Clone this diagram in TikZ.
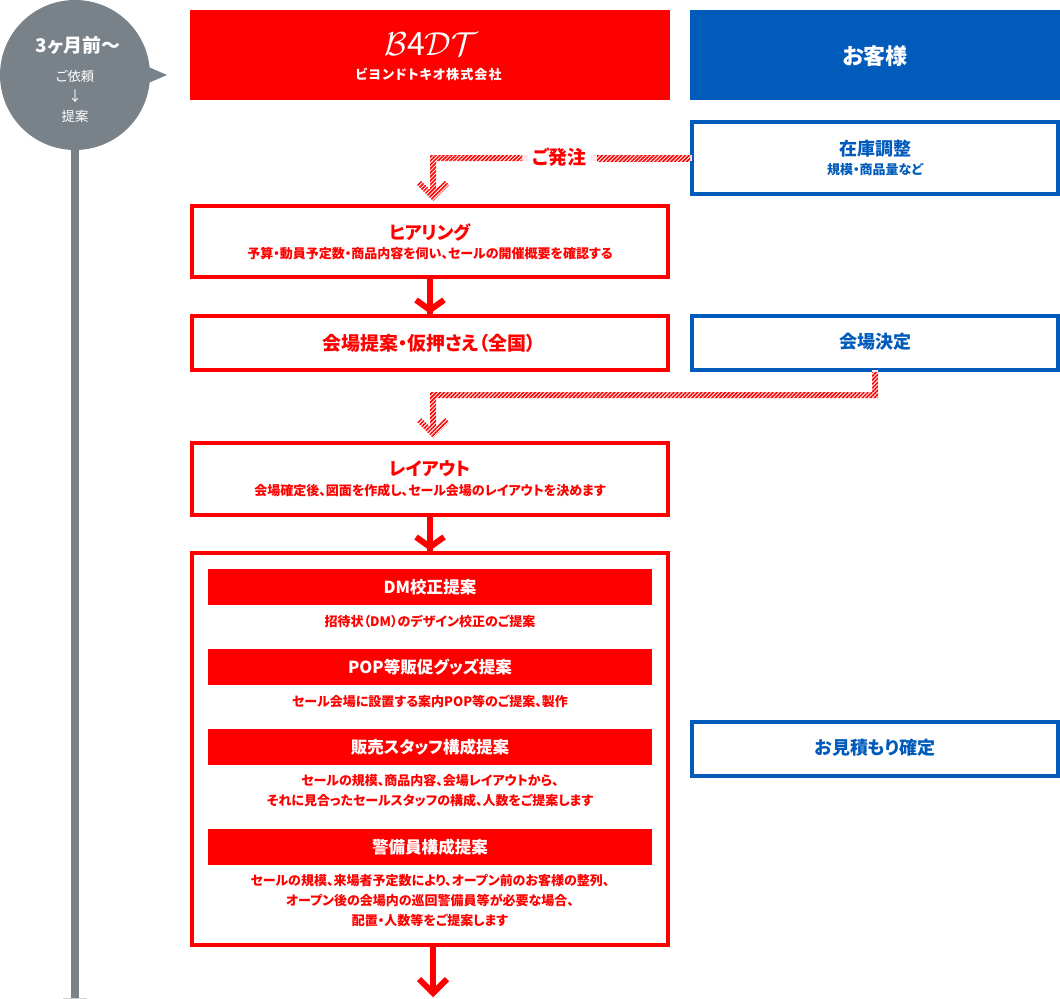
\documentclass[tikz,border=0pt]{standalone}
\usepackage{fontspec}
\setmainfont{Noto Sans CJK JP}[RawFeature=+palt]
\usetikzlibrary{patterns.meta,calc}
\definecolor{bred}{HTML}{FF0000}
\definecolor{bblue}{HTML}{005BBB}
\definecolor{bgray}{HTML}{7A8289}
\definecolor{hbase}{HTML}{FFE6E6}
\tikzset{
  x=0.75pt,y=-0.75pt,
  every node/.style={inner sep=0pt,outer sep=0pt,font=\bfseries,align=center},
  redbox/.style={draw=bred,line width=3pt,fill=white},
  bluebox/.style={draw=bblue,line width=3pt,fill=white},
  head/.style={text=#1,font=\fontsize{13.5}{15}\selectfont\bfseries},
  sub/.style={text=#1,font=\fontsize{9.75}{15}\selectfont\bfseries},
  banner/.style={fill=bred,text=white,font=\fontsize{12.4}{15}\selectfont\bfseries},
  stem/.style={draw=bred,line width=4.5pt},
  chev/.style={draw=bred,line width=4.5pt,miter limit=10},
  hline/.style={draw=hbase,line width=4.5pt},
  hatch/.style={pattern={Lines[angle=45,distance=2.1pt,line width=1.15pt]},pattern color=bred},
}
\newcommand{\boxat}[6]{\node[#1,minimum width=#4*0.75pt-3pt,minimum height=#5*0.75pt-3pt] (#6) at (#2,#3) {};}
\begin{document}
\begin{tikzpicture}
\useasboundingbox (0,0) rectangle (1060,999);
% timeline
\coordinate (lineEnd) at (75,998);
\fill[bgray] (63,998.5) arc[start angle=180,end angle=0,x radius=12,y radius=1.5] -- cycle;
\node[circle,fill=bgray,minimum size=112.5pt] (bubble) at (75,75) {};
\draw[bgray,line width=6pt] (bubble.south) -- (lineEnd);
\coordinate (ptr) at (167,75);
\fill[bgray] (146,66) -- (ptr) -- (146,84) -- cycle;
\node[text=white,font=\fontsize{14.2}{16}\selectfont\bfseries] (t3m) at (78,45) {3ヶ月前〜};
\node[text=white,font=\fontsize{10}{12}\selectfont] (tirai) at (75,76) {ご依頼};
\node[text=white,font=\fontsize{10.5}{12}\selectfont] (tarr) at (75,96) {↓};
\node[text=white,font=\fontsize{10}{12}\selectfont] (tprop) at (75,116) {提案};
% headers
\node[fill=bred,minimum width=360pt,minimum height=67.5pt] (hdrR) at (430,55) {};
\node[fill=bblue,minimum width=277.5pt,minimum height=67.5pt] (hdrB) at (875,55) {};
\node[text=white,font=\fontsize{24}{24}\selectfont\itshape] (logo) at (431,44) {$\mathcal{B}$\textit{4}$\mathcal{DT}$};
\node[text=white,font=\fontsize{9.8}{12}\selectfont\bfseries\addfontfeature{LetterSpace=8}] (logosub) at (428.5,74) {ビヨンドトキオ株式会社};
\node[text=white,font=\fontsize{16.5}{20}\selectfont\bfseries] (okyaku) at (875,56) {お客様};
% boxes
\boxat{bluebox}{875}{158}{370}{76}{zaiko}
\boxat{redbox}{430}{241.5}{480}{75}{hearing}
\boxat{redbox}{430}{343}{480}{58}{venue}
\boxat{bluebox}{875}{343}{370}{58}{decide}
\boxat{redbox}{430}{479}{480}{76}{layout}
\boxat{redbox}{430}{749}{480}{396}{big}
\boxat{bluebox}{875}{749}{370}{58}{estimate}
% box text
\node[head=bblue] (z1) at (875,149) {在庫調整};
\node[sub=bblue] (z2) at (875,170) {規模・商品量など};
\node[head=bred] (h1) at (430,232) {ヒアリング};
\node[sub=bred] (h2) at (430,254) {予算・動員予定数・商品内容を伺い、セールの開催概要を確認する};
\node[head=bred,font=\fontsize{14.2}{16}\selectfont\bfseries] (v1) at (429,343) {会場提案・仮押さえ（全国）};
\node[head=bblue] (d1) at (875,342) {会場決定};
\node[head=bred] (l1) at (430,469) {レイアウト};
\node[sub=bred] (l2) at (430,491) {会場確定後、図面を作成し、セール会場のレイアウトを決めます};
\node[head=bblue] (e1) at (875,748) {お見積もり確定};
% banners
\node[banner,minimum width=333pt,minimum height=27pt] (b1) at (430,587) {DM校正提案};
\node[sub=bred] (s1) at (430,621) {招待状（DM）のデザイン校正のご提案};
\node[banner,minimum width=333pt,minimum height=27pt] (b2) at (430,667) {POP等販促グッズ提案};
\node[sub=bred] (s2) at (430,701) {セール会場に設置する案内POP等のご提案、製作};
\node[banner,minimum width=333pt,minimum height=27pt] (b3) at (430,747) {販売スタッフ構成提案};
\node[sub=bred] (s3) at (430,791) {セールの規模、商品内容、会場レイアウトから、\\それに見合ったセールスタッフの構成、人数をご提案します};
\node[banner,minimum width=333pt,minimum height=27pt] (b4) at (430,847) {警備員構成提案};
\node[sub=bred] (s4) at (430,901) {セールの規模、来場者予定数により、オープン前のお客様の整列、\\オープン後の会場内の巡回警備員等が必要な場合、\\配置・人数等をご提案します};
% hatched connector 1
\node[text=bred,font=\fontsize{14.2}{16}\selectfont\bfseries] (order) at (559.5,157) {ご発注};
\coordinate (c1) at (433,158);
\coordinate (t1) at (433,196);
\coordinate (o1) at ($(order.east)+(4,1)$);
\coordinate (o2) at ($(order.west)+(-4,1)$);
\draw[hline] (zaiko.west) -- (o1);
\draw[hline] (o2) -- (c1) -- (t1);
\fill[hatch] (690,155) -- (597,155) -- (597,161) -- (690,161) -- cycle;
\fill[hatch] (522,155) -- (430,155) -- (430,189.5) -- (421,181) -- (417,185) -- (433,201) -- (449,185) -- (445,181) -- (436,189.5) -- (436,161) -- (522,161) -- cycle;
% hatched connector 2
\coordinate (c2a) at (875,395);
\coordinate (c2b) at (433,395);
\coordinate (t2) at (433,433);
\draw[hline] (decide.south -| c2a) -- (c2a) -- (c2b) -- (t2);
\fill[hatch] (872,372) -- (878,372) -- (878,398) -- (436,398) -- (436,427) -- (445,418) -- (449,422) -- (433,438) -- (417,422) -- (421,418) -- (430,427) -- (430,392) -- (872,392) -- cycle;
% solid arrows
\foreach \a/\b/\n in {hearing/venue/a1,layout/big/a2}{
  \draw[stem] (\a.south) -- (\b.north);
  \draw[chev] ($(\b.north)+(-14,-16)$) -- ($(\b.north)+(0,-6)+(0,-0)$) -- ($(\b.north)+(14,-16)$);
}
\coordinate (endA) at (430,996);
\coordinate (endB) at (433,993);
\draw[stem] (big.south -| endB) -- (endB);
\draw[chev] ($(endB)+(-14,-14)$) -- (endB) -- ($(endB)+(14,-14)$);
\end{tikzpicture}
\end{document}
